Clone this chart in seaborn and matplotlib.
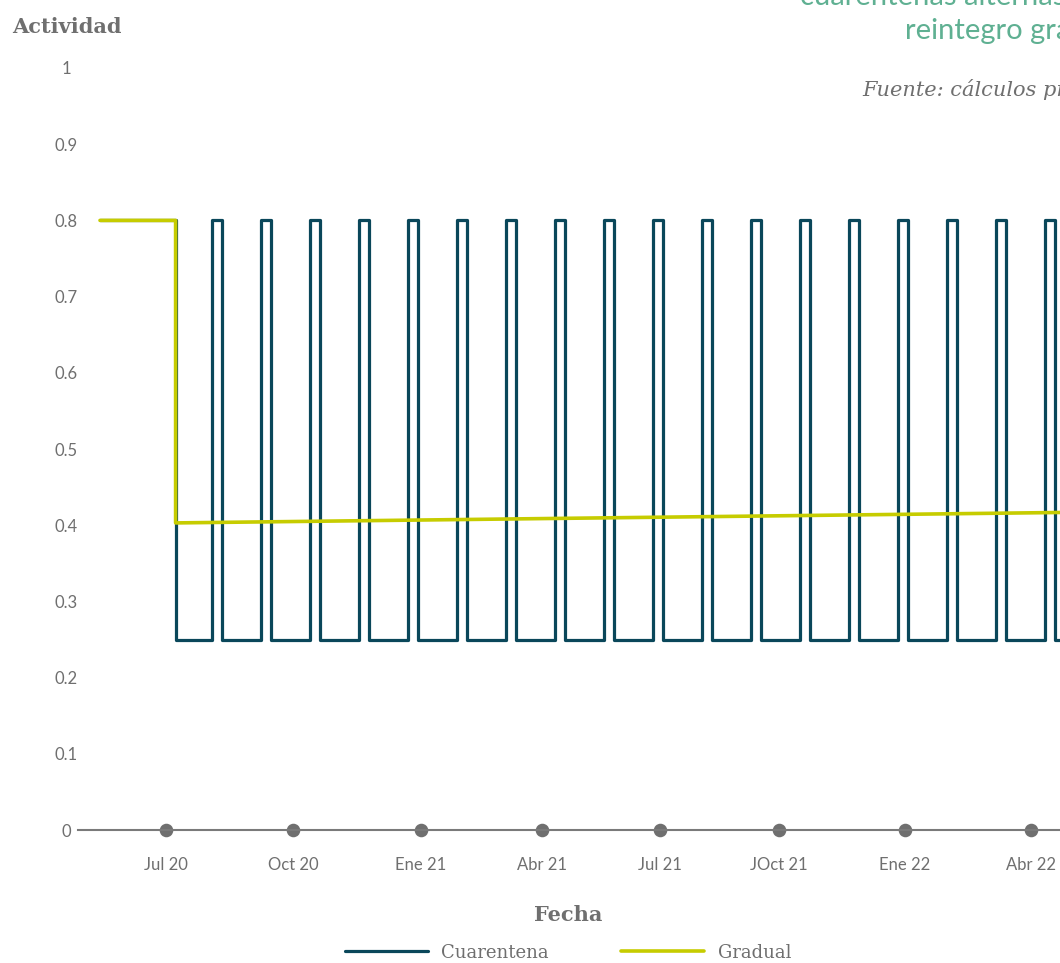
import seaborn as sns
import matplotlib.pyplot as plt

# días desde el inicio de la serie (mediados de mayo 2020)
cuarentena_dia = [0, 54, 80, 87, 115, 122, 150, 157, 185, 192, 220, 227, 255, 262,
                  290, 297, 325, 332, 360, 367, 395, 402, 430, 437, 465, 472, 500, 507,
                  535, 542, 570, 577, 605, 612, 640, 647, 675, 682, 700]
cuarentena_valor = [0.8, 0.25, 0.8, 0.25, 0.8, 0.25, 0.8, 0.25, 0.8, 0.25, 0.8, 0.25, 0.8, 0.25,
                    0.8, 0.25, 0.8, 0.25, 0.8, 0.25, 0.8, 0.25, 0.8, 0.25, 0.8, 0.25, 0.8, 0.25,
                    0.8, 0.25, 0.8, 0.25, 0.8, 0.25, 0.8, 0.25, 0.8, 0.25, 0.25]

gradual_dia = [0, 54, 54, 700]
gradual_valor = [0.8, 0.8, 0.403, 0.417]

tick_dia = [47, 138, 229, 316, 400, 485, 575, 665]
tick_etiquetas = ["Jul 20", "Oct 20", "Ene 21", "Abr 21", "Jul 21", "JOct 21", "Ene 22", "Abr 22"]
ytick_valores = [0, 0.1, 0.2, 0.3, 0.4, 0.5, 0.6, 0.7, 0.8, 0.9, 1]
ytick_etiquetas = ["0", "0.1", "0.2", "0.3", "0.4", "0.5", "0.6", "0.7", "0.8", "0.9", "1"]

gris = "#6f6f6f"
azul = "#0a475a"
amarillo = "#c6cc00"
verde = "#5fb092"

sns.set_theme(style="white")
plt.rcParams["font.family"] = ["Lato", "DejaVu Sans"]

fig = plt.figure(figsize=(10.6, 9.63), dpi=100)
ax = fig.add_axes([77.6 / 1060, 133 / 963, 1002.4 / 1060, 762 / 963])

sns.lineplot(x=cuarentena_dia, y=cuarentena_valor, estimator=None, sort=False,
             drawstyle="steps-post", color=azul, linewidth=2.3, label="Cuarentena", ax=ax)
sns.lineplot(x=gradual_dia, y=gradual_valor, estimator=None, sort=False,
             color=amarillo, linewidth=2.6, label="Gradual", ax=ax)

ax.set_xlim(-16, 700)
ax.set_ylim(0, 1)
ax.set_xlabel("")
ax.set_ylabel("")
sns.despine(ax=ax, left=True)
ax.spines["bottom"].set_color("#7a7a7a")
ax.spines["bottom"].set_linewidth(1.5)

ax.set_yticks(ytick_valores, labels=ytick_etiquetas)
ax.tick_params(axis="y", length=0, pad=8.4, labelsize=12, labelcolor=gris)
for lab in ax.get_yticklabels():
    lab.set_horizontalalignment("center")

ax.set_xticks(tick_dia, labels=tick_etiquetas)
ax.tick_params(axis="x", length=8.5, pad=11, labelsize=12, labelcolor=gris,
               bottom=True, color=gris)
for t in ax.xaxis.get_major_ticks():
    t.tick1line.set_marker("o")
    t.tick1line.set_markerfacecolor(gris)
    t.tick1line.set_markeredgecolor(gris)

handles, labels = ax.get_legend_handles_labels()
ax.get_legend().remove()
fig.legend(handles, labels, loc="center", bbox_to_anchor=(568 / 1060, 10.5 / 963), ncol=2,
           frameon=False, handlelength=4.6, handletextpad=0.75, columnspacing=4.0,
           prop={"family": "DejaVu Serif", "size": 13}, labelcolor=gris)

serif = ["DejaVu Serif"]
fig.text(12 / 1060, 1 - 33 / 963, "Actividad", family=serif, weight="bold", size=15,
         color=gris, va="baseline")
fig.text(568 / 1060, 1 - 921 / 963, "Fecha", family=serif, weight="bold", size=15,
         color=gris, va="baseline", ha="center")
fig.text(800 / 1060, 1 - 5 / 963, "cuarentenas alternas vs.", size=21, weight="normal",
         color=verde, va="baseline")
fig.text(905 / 1060, 1 - 39.5 / 963, "reintegro gradual", size=21, weight="normal",
         color=verde, va="baseline")
fig.text(862 / 1060, 1 - 96 / 963, "Fuente: cálculos propios", family=serif, style="italic",
         size=15, color=gris, va="baseline")

fig.savefig("out.png", dpi=100)
